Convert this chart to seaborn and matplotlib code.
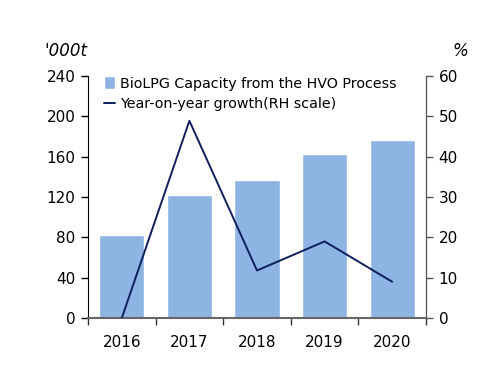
import numpy as np
import pandas as pd
import seaborn as sns
import matplotlib.pyplot as plt
from matplotlib.ticker import FixedLocator

# data
years = ['2016', '2017', '2018', '2019', '2020']
capacity = [82, 122, 137, 163, 177]        # '000t, left axis
growth = [0.0, 48.9, 11.8, 19.0, 9.0]      # %, right axis

df = pd.DataFrame({'year': years, 'capacity': capacity, 'growth': growth})

sns.set_style('white')
plt.rcParams['font.family'] = ['DejaVu Sans']
plt.rcParams['text.color'] = 'black'
plt.rcParams['xtick.color'] = 'black'
plt.rcParams['ytick.color'] = 'black'

bar_col = '#8EB4E3'
line_col = '#0E1F5B'

fig = plt.figure(figsize=(5, 3.86), dpi=100)
ax = fig.add_axes([0.176, 0.176, 0.676, 0.627])

sns.barplot(data=df, x='year', y='capacity', color=bar_col, width=0.67,
            saturation=1, ax=ax, label='BioLPG Capacity from the HVO Process')

ax2 = ax.twinx()
sns.lineplot(x=np.arange(len(years)), y=df['growth'], color=line_col, lw=1.4,
             ax=ax2, label='Year-on-year growth(RH scale)')

ax.set_xlim(-0.5, len(years) - 0.5)
ax.set_ylim(0, 240)
ax.set_yticks(range(0, 241, 40))
ax2.set_ylim(0, 60)
ax2.set_yticks(range(0, 61, 10))
ax.set_xlabel('')
ax.set_ylabel('')
ax2.set_ylabel('')

# x ticks between the categories, labels at the centres
ax.xaxis.set_major_locator(FixedLocator(np.arange(-0.5, len(years), 1)))
ax.set_xticklabels([''] * (len(years) + 1))
ax.xaxis.set_minor_locator(FixedLocator(np.arange(len(years))))
ax.set_xticklabels(years, minor=True)
ax.tick_params(axis='x', which='minor', length=0, labelsize=11, pad=12)
ax.tick_params(axis='x', which='major', direction='out', length=5, width=1,
               color='#333333', bottom=True)
ax.tick_params(axis='y', direction='out', length=5, width=1, color='black',
               left=True, labelsize=11, pad=4)
ax2.tick_params(axis='y', direction='out', length=5, width=1, color='#555555',
                right=True, labelsize=11, pad=4)

for a in (ax, ax2):
    a.spines['top'].set_visible(False)
ax.spines['left'].set_color('black')
ax.spines['bottom'].set_color('#666666')
ax.spines['bottom'].set_linewidth(1.5)
ax2.spines['right'].set_color('#555555')
ax2.spines['left'].set_visible(False)
ax2.spines['bottom'].set_visible(False)

# merged legend, no frame
h1, l1 = ax.get_legend_handles_labels()
h2, l2 = ax2.get_legend_handles_labels()
ax2.get_legend().remove()
if ax.get_legend():
    ax.get_legend().remove()
ax2.legend(h1 + h2, l1 + l2, loc='upper left', frameon=False, fontsize=10.3,
           handlelength=0.8, handleheight=1.0, handletextpad=0.3,
           labelspacing=0.45, borderaxespad=0.0,
           bbox_to_anchor=(0.03, 1.022))

fig.text(0.088, 0.855, "'000t", fontsize=12, style='italic', ha='left')
fig.text(0.905, 0.855, '%', fontsize=12, style='italic', ha='left')

fig.savefig('out.png', dpi=100)
